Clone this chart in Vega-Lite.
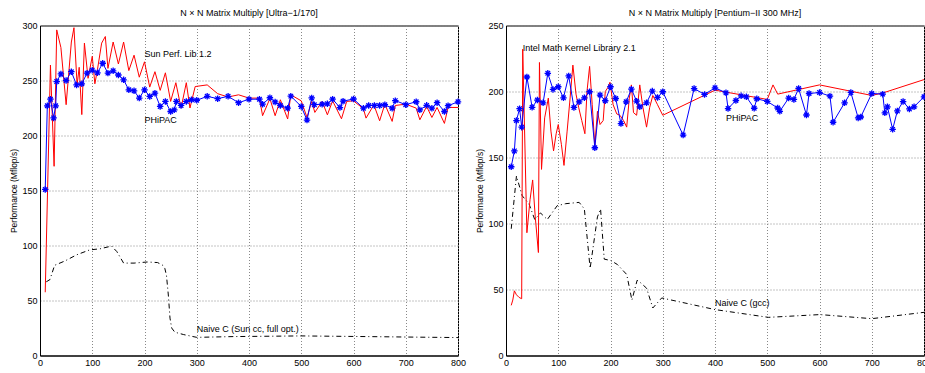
{
  "$schema": "https://vega.github.io/schema/vega-lite/v6.json",
  "padding": {"left": 9, "top": 7.5, "right": 0, "bottom": 0},
  "bounds": "flush",
  "spacing": 48,
  "config": {
    "font": "Liberation Sans",
    "view": {"stroke": "#000", "strokeWidth": 1},
    "axis": {"domainColor": "#000", "labelColor": "#000", "labelFontSize": 9, "titleFontSize": 8.5, "titleFontWeight": "normal", "titleColor": "#000", "ticks": false, "gridColor": "#888", "gridDash": [1, 2], "gridOpacity": 1, "labelPadding": 3, "titlePadding": 3},
    "title": {"fontSize": 9, "fontWeight": "normal", "offset": 0, "color": "#000"},
    "text": {"font": "Liberation Sans", "fontSize": 9}
  },
  "datasets": {
    "ultra_phipac": [
      {"N":10,"v":151},{"N":14,"v":227},{"N":20,"v":233},{"N":26,"v":216},{"N":30,"v":227},{"N":32,"v":249},{"N":40,"v":256},{"N":50,"v":250},{"N":60,"v":258},{"N":70,"v":246},{"N":80,"v":247},{"N":90,"v":256.7},{"N":100,"v":259.4},{"N":110,"v":257},{"N":120,"v":265.7},{"N":130,"v":256.7},{"N":140,"v":258.8},{"N":150,"v":255},{"N":160,"v":250.6},{"N":170,"v":241.5},{"N":180,"v":240.6},{"N":190,"v":234},{"N":200,"v":241.5},{"N":210,"v":235.5},{"N":220,"v":238.5},{"N":230,"v":226.4},{"N":240,"v":231},{"N":250,"v":221.8},{"N":257,"v":223.3},{"N":261,"v":231},{"N":270,"v":227.3},{"N":280,"v":231},{"N":290,"v":232.5},{"N":300,"v":232},{"N":320,"v":235.6},{"N":340,"v":233.5},{"N":360,"v":235.6},{"N":380,"v":229.8},{"N":400,"v":233},{"N":420,"v":233},{"N":426,"v":228.5},{"N":440,"v":234.3},{"N":450,"v":230.5},{"N":460,"v":227.3},{"N":474,"v":224.8},{"N":480,"v":235.8},{"N":500,"v":226.4},{"N":511,"v":214},{"N":520,"v":234.2},{"N":525,"v":228},{"N":540,"v":228.5},{"N":550,"v":228.8},{"N":560,"v":233},{"N":574,"v":225.4},{"N":580,"v":231.2},{"N":600,"v":233.2},{"N":619,"v":224.8},{"N":629,"v":227.3},{"N":640,"v":227.3},{"N":650,"v":227.3},{"N":660,"v":228},{"N":674,"v":224.8},{"N":680,"v":231.7},{"N":700,"v":228},{"N":720,"v":230.7},{"N":727,"v":223.3},{"N":740,"v":227.4},{"N":750,"v":224.8},{"N":760,"v":229.8},{"N":774,"v":221.8},{"N":781,"v":227.1},{"N":800,"v":230.6}
    ],
    "ultra_spl": [
      {"N":10,"v":57.5},{"N":20,"v":264},{"N":27,"v":172},{"N":32,"v":296},{"N":40,"v":280},{"N":50,"v":228},{"N":60,"v":285},{"N":65,"v":298},{"N":71,"v":246},{"N":75,"v":262},{"N":80,"v":219},{"N":85,"v":284},{"N":92,"v":252},{"N":100,"v":272},{"N":105,"v":247},{"N":110,"v":260},{"N":118,"v":284},{"N":125,"v":290},{"N":130,"v":261},{"N":140,"v":285},{"N":150,"v":265},{"N":160,"v":285},{"N":170,"v":259},{"N":180,"v":273},{"N":190,"v":253},{"N":200,"v":267},{"N":210,"v":244},{"N":220,"v":258},{"N":230,"v":241},{"N":240,"v":257},{"N":250,"v":231},{"N":260,"v":248},{"N":270,"v":225},{"N":280,"v":248},{"N":287,"v":225},{"N":297,"v":244.5},{"N":320,"v":246},{"N":340,"v":238},{"N":360,"v":235},{"N":380,"v":237},{"N":400,"v":234},{"N":420,"v":234},{"N":426,"v":218},{"N":440,"v":233.5},{"N":450,"v":218},{"N":460,"v":232.5},{"N":474,"v":215},{"N":480,"v":237},{"N":500,"v":231.5},{"N":511,"v":216.4},{"N":520,"v":231},{"N":526,"v":221},{"N":540,"v":231},{"N":550,"v":218.8},{"N":560,"v":231.5},{"N":577,"v":215.2},{"N":587,"v":231},{"N":600,"v":231.5},{"N":619,"v":224.3},{"N":624,"v":215.8},{"N":639,"v":227.9},{"N":650,"v":213.4},{"N":660,"v":228.5},{"N":674,"v":212.8},{"N":680,"v":227.3},{"N":700,"v":228.5},{"N":720,"v":224.9},{"N":727,"v":214.3},{"N":740,"v":226.4},{"N":750,"v":216.4},{"N":760,"v":225.5},{"N":774,"v":211},{"N":781,"v":225.5},{"N":800,"v":225.5}
    ],
    "ultra_naive": [
      {"N":12,"v":67},{"N":19,"v":69},{"N":28,"v":82},{"N":48,"v":86},{"N":70,"v":91.5},{"N":95,"v":96},{"N":115,"v":97},{"N":137,"v":99.5},{"N":147,"v":94.5},{"N":160,"v":84},{"N":180,"v":84},{"N":205,"v":85},{"N":225,"v":84.5},{"N":235,"v":82},{"N":239,"v":79},{"N":242,"v":73},{"N":245.6,"v":55},{"N":248.8,"v":34},{"N":252,"v":25},{"N":258,"v":21.2},{"N":275,"v":19},{"N":300,"v":16.5},{"N":370,"v":17.2},{"N":500,"v":17.8},{"N":625,"v":17.2},{"N":700,"v":16.8},{"N":800,"v":16.3}
    ],
    "pent_phipac": [
      {"N":10,"v":143},{"N":16,"v":155},{"N":20,"v":178},{"N":26,"v":187},{"N":30,"v":173},{"N":40,"v":211},{"N":50,"v":188},{"N":60,"v":193.5},{"N":71,"v":191.4},{"N":80,"v":213.8},{"N":90,"v":201.6},{"N":100,"v":203.6},{"N":110,"v":195.2},{"N":120,"v":211.8},{"N":130,"v":187.9},{"N":140,"v":192.2},{"N":150,"v":195.2},{"N":160,"v":199.8},{"N":170,"v":157.4},{"N":180,"v":197.3},{"N":190,"v":193},{"N":200,"v":203.6},{"N":210,"v":194.7},{"N":220,"v":175.7},{"N":230,"v":192.2},{"N":240,"v":201.8},{"N":250,"v":192.7},{"N":256,"v":188.4},{"N":269,"v":191.4},{"N":280,"v":200.3},{"N":290,"v":195.5},{"N":300,"v":199.8},{"N":339,"v":167},{"N":360,"v":202.2},{"N":380,"v":197.8},{"N":400,"v":202.8},{"N":421,"v":199},{"N":425,"v":187.1},{"N":440,"v":193.2},{"N":450,"v":196.7},{"N":460,"v":196},{"N":475,"v":187.3},{"N":480,"v":194.5},{"N":500,"v":192.5},{"N":520,"v":187.5},{"N":524,"v":185},{"N":541,"v":195},{"N":551,"v":194},{"N":560,"v":202.3},{"N":575,"v":182.2},{"N":580,"v":198.5},{"N":600,"v":199.2},{"N":620,"v":196.5},{"N":626,"v":176.7},{"N":648,"v":191.4},{"N":660,"v":199.3},{"N":674,"v":180},{"N":679,"v":180.7},{"N":700,"v":198.5},{"N":721,"v":198},{"N":725,"v":183.8},{"N":730,"v":188.4},{"N":740,"v":171.3},{"N":749,"v":185.3},{"N":760,"v":192.4},{"N":772,"v":186.8},{"N":781,"v":188.4},{"N":800,"v":196}
    ],
    "pent_mkl": [
      {"N":10,"v":38},{"N":13,"v":42},{"N":16,"v":49},{"N":20,"v":46},{"N":25,"v":44},{"N":30,"v":43},{"N":32,"v":232},{"N":40,"v":93},{"N":46,"v":118},{"N":51,"v":133},{"N":56,"v":105},{"N":62,"v":78},{"N":64,"v":222},{"N":68,"v":141},{"N":74,"v":180},{"N":81,"v":195},{"N":86,"v":170},{"N":91,"v":155},{"N":96,"v":168},{"N":100,"v":175},{"N":106,"v":160},{"N":111,"v":144},{"N":117,"v":170},{"N":122,"v":192},{"N":128,"v":220},{"N":134,"v":198},{"N":139,"v":188},{"N":145,"v":178},{"N":151,"v":168},{"N":155,"v":200},{"N":160,"v":219},{"N":165,"v":190},{"N":170,"v":159},{"N":175,"v":185},{"N":180,"v":175},{"N":186,"v":178},{"N":190,"v":200},{"N":195,"v":203},{"N":199,"v":207},{"N":205,"v":190},{"N":212,"v":183},{"N":218,"v":182},{"N":225,"v":178},{"N":231,"v":173},{"N":236,"v":195},{"N":240,"v":205},{"N":244,"v":184},{"N":250,"v":182},{"N":256,"v":205},{"N":262,"v":188},{"N":269,"v":173},{"N":275,"v":188},{"N":281,"v":197},{"N":290,"v":190},{"N":300,"v":182},{"N":400,"v":201},{"N":500,"v":194},{"N":511,"v":205},{"N":520,"v":198},{"N":600,"v":205},{"N":700,"v":197},{"N":722,"v":199},{"N":800,"v":209}
    ],
    "pent_naive": [
      {"N":10,"v":96},{"N":20,"v":136},{"N":31,"v":121},{"N":44,"v":115},{"N":55,"v":103},{"N":66,"v":108},{"N":79,"v":103},{"N":98,"v":113.5},{"N":114,"v":115},{"N":140,"v":116},{"N":150,"v":111},{"N":161,"v":66},{"N":175,"v":105},{"N":181,"v":111},{"N":188,"v":73},{"N":200,"v":72},{"N":213,"v":69},{"N":231,"v":61.4},{"N":241,"v":42},{"N":251,"v":57},{"N":258,"v":55},{"N":269,"v":51},{"N":281,"v":36},{"N":298,"v":43.6},{"N":400,"v":34.8},{"N":502,"v":28.9},{"N":601,"v":31},{"N":700,"v":27.9},{"N":800,"v":32.7}
    ],
    "ultra_labels": [
      {"N":200,"v":274.3,"label":"Sun Perf. Lib 1.2"},
      {"N":200,"v":214.3,"label":"PHiPAC"},
      {"N":300,"v":24.3,"label":"Naive C (Sun cc, full opt.)"}
    ],
    "pent_labels": [
      {"N":32,"v":232.8,"label":"Intel Math Kernel Library 2.1"},
      {"N":421,"v":180.3,"label":"PHiPAC"},
      {"N":400,"v":39.6,"label":"Naive C (gcc)"}
    ]
  },
  "hconcat": [
    {
      "width": 418,
      "height": 330,
      "title": "N × N Matrix Multiply [Ultra−1/170]",
      "encoding": {
        "x": {"field": "N", "type": "quantitative", "scale": {"domain": [0, 800], "nice": false}, "axis": {"title": "N", "values": [0,100,200,300,400,500,600,700,800], "labelFlush": false, "titlePadding": 4}},
        "y": {"field": "v", "type": "quantitative", "scale": {"domain": [0, 300], "nice": false}, "axis": {"title": "Performance (Mflop/s)", "values": [0,50,100,150,200,250,300]}}
      },
      "layer": [
        {"data": {"name": "ultra_naive"}, "mark": {"type": "line", "color": "#000", "strokeWidth": 1, "strokeDash": [5, 3, 1, 3]}},
        {"data": {"name": "ultra_spl"}, "mark": {"type": "line", "color": "#ff0000", "strokeWidth": 1}},
        {"data": {"name": "ultra_phipac"}, "mark": {"type": "line", "color": "#0000ff", "strokeWidth": 1}},
        {"data": {"name": "ultra_phipac"}, "mark": {"type": "point", "shape": "M-1,0H1M0,-1V1M-0.7,-0.7L0.7,0.7M-0.7,0.7L0.7,-0.7", "filled": false, "color": "#0000ff", "size": 42, "strokeWidth": 1.3, "opacity": 1}},
        {"data": {"name": "ultra_labels"}, "mark": {"type": "text", "align": "left", "baseline": "middle", "color": "#000"}, "encoding": {"text": {"field": "label"}}}
      ]
    },
    {
      "width": 418,
      "height": 330,
      "title": "N × N Matrix Multiply [Pentium−II 300 MHz]",
      "encoding": {
        "x": {"field": "N", "type": "quantitative", "scale": {"domain": [0, 800], "nice": false}, "axis": {"title": "N", "values": [0,100,200,300,400,500,600,700,800], "labelFlush": false, "titlePadding": 4}},
        "y": {"field": "v", "type": "quantitative", "scale": {"domain": [0, 250], "nice": false}, "axis": {"title": "Performance (Mflop/s)", "values": [0,50,100,150,200,250]}}
      },
      "layer": [
        {"data": {"name": "pent_naive"}, "mark": {"type": "line", "color": "#000", "strokeWidth": 1, "strokeDash": [5, 3, 1, 3]}},
        {"data": {"name": "pent_mkl"}, "mark": {"type": "line", "color": "#ff0000", "strokeWidth": 1}},
        {"data": {"name": "pent_phipac"}, "mark": {"type": "line", "color": "#0000ff", "strokeWidth": 1}},
        {"data": {"name": "pent_phipac"}, "mark": {"type": "point", "shape": "M-1,0H1M0,-1V1M-0.7,-0.7L0.7,0.7M-0.7,0.7L0.7,-0.7", "filled": false, "color": "#0000ff", "size": 42, "strokeWidth": 1.3, "opacity": 1}},
        {"data": {"name": "pent_labels"}, "mark": {"type": "text", "align": "left", "baseline": "middle", "color": "#000"}, "encoding": {"text": {"field": "label"}}}
      ]
    }
  ]
}
